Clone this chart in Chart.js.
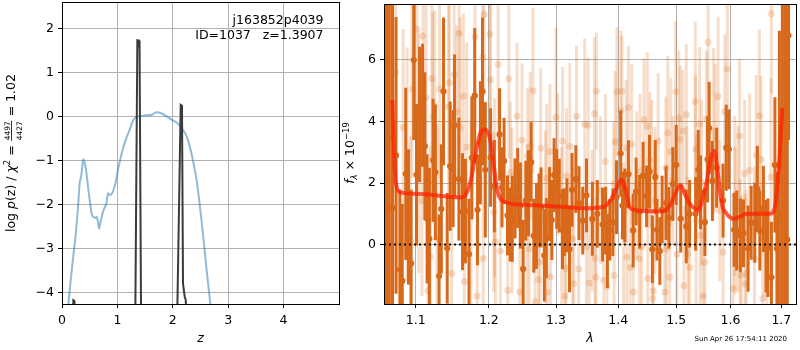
<!DOCTYPE html>
<html>
<head>
<meta charset="utf-8">
<script src="https://cdn.jsdelivr.net/npm/chart.js@4.4.0/dist/chart.umd.min.js"></script>
<style>
  html, body { margin: 0; padding: 0; background: #fff; }
  #wrap { position: relative; width: 800px; height: 350px; overflow: hidden; }
  #pz { position: absolute; left: 0; top: 0; }
  #sp { position: absolute; left: 340px; top: 0; }
</style>
</head>
<body>
<div id="wrap">
  <canvas id="pz" width="380" height="350"></canvas>
  <canvas id="sp" width="460" height="350"></canvas>
</div>
<script>
// ---- left panel: log p(z) ----
const zTicks = [0, 1, 2, 3, 4];
const lnpTicks = [-4, -3, -2, -1, 0, 1, 2];

const zBlue = [0.10,0.14,0.17,0.21,0.25,0.29,0.32,0.35,0.38,0.39,0.43,0.47,0.50,0.54,0.59,0.63,0.67,0.69,0.74,0.80,
  0.83,0.87,0.92,0.97,1.01,1.05,1.10,1.16,1.22,1.28,1.34,1.43,1.55,1.61,1.70,1.79,1.88,1.97,2.07,2.15,
  2.23,2.29,2.35,2.43,2.49,2.55,2.61,2.67,2.72];
const lnpBlue = [-4.45,-3.95,-3.57,-3.11,-2.66,-2.05,-1.51,-1.33,-0.99,-0.98,-1.18,-1.60,-1.90,-2.24,-2.31,-2.29,-2.55,-2.43,-2.17,-1.98,
  -1.75,-1.79,-1.71,-1.49,-1.22,-0.99,-0.73,-0.50,-0.31,-0.10,-0.02,0.01,0.03,0.03,0.09,0.07,0.01,-0.07,-0.14,-0.25,
  -0.40,-0.61,-0.92,-1.45,-2.05,-2.74,-3.49,-4.17,-4.8];

// null = break in the line
const zBlack = [0.195,0.205,0.225,0.235,0.8, 1.303,1.36,1.39,1.40,1.443,1.8, 2.034,2.143,2.166,2.184,2.215,2.233,2.25];
const lnpBlack = [-4.6,-4.18,-4.2,-4.6,null, -8,1.73,1.72,1.52,-8,null, -8,0.26,0.24,-3.8,-4.1,-4.17,-4.6];

// ---- right panel: spectrum ----
const lamTicks = [1.1, 1.2, 1.3, 1.4, 1.5, 1.6, 1.7];
const fluxTicks = [0, 2, 4, 6];

const lamDark = [1.0600,1.0625,1.0660,1.0700,1.0745,1.0794,1.0825,1.0870,1.0905,1.0940,
  1.0974,1.1010,1.1050,1.1090,1.1120,1.1150,1.1180,1.1230,1.1260,1.1310,
  1.1340,1.1370,1.1420,1.1460,1.1500,1.1520,1.1580,1.1630,1.1670,1.1720,
  1.1760,1.1800,1.1840,1.1880,1.1910,1.1950,1.2025,1.2080,1.2155,1.2190,
  1.2220,1.2270,1.2310,1.2340,1.2380,1.2420,1.2460,1.2500,1.2540,1.2580,
  1.2620,1.2660,1.2700,1.2740,1.2770,1.2820,1.2850,1.2900,1.2935,1.2970,
  1.3010,1.3050,1.3100,1.3130,1.3170,1.3210,1.3250,1.3310,1.3360,1.3420,
  1.3480,1.3575,1.3655,1.3740,1.3790,1.3820,1.3860,1.3910,1.3970,1.4040,
  1.4070,1.4110,1.4170,1.4250,1.4300,1.4360,1.4420,1.4480,1.4530,1.4580,
  1.4630,1.4660,1.4710,1.4750,1.4820,1.4870,1.4940,1.5000,1.5080,1.5180,
  1.5240,1.5350,1.5400,1.5440,1.5520,1.5570,1.5600,1.5660,1.5740,1.5860,
  1.5920,1.5970,1.6070,1.6120,1.6190,1.6250,1.6340,1.6400,1.6470,1.6520,
  1.6570,1.6640,1.6690,1.6730,1.6800,1.6870,1.6910,1.6960,1.7020,1.7070,
  1.7120,1.7145];
const fluxDark = [5.9,2.5,3.5,1.2,2.9,-0.81,-1.18,2.3,0.9,-0.61,
  6.0,2.27,4.23,4.53,3.2,0.84,0.19,2.74,2.35,-1.02,
  1.16,4.98,-0.12,2.55,2.47,3.88,2.13,1.07,1.09,-0.31,
  2.82,4.84,1.13,3.31,4.98,2.43,2.83,1.9,3.58,1.86,
  2.72,0.95,0.65,0.84,1.5,1.84,1.27,-0.79,1.43,1.67,
  2.68,0.29,0.61,1.11,1.21,-0.35,0.21,1.32,0.8,2.26,
  1.81,1.59,0.5,0.73,0.95,-0.15,1.78,2.13,1.35,0.78,
  1.6,0.84,1.0,0.65,0.78,-0.21,0.48,0.73,1.54,2.96,
  1.27,1.27,2.29,0.46,1.73,1.07,2.24,1.57,2.37,-0.15,
  2.2,0.48,-0.21,1.14,1.35,0.87,1.97,2.59,0.84,0.59,
  1.0,1.0,2.43,1.7,0.73,2.77,3.79,2.07,2.5,1.43,
  3.15,3.1,0.48,0.46,0.3,0.37,-0.13,0.71,0.71,1.81,
  0.46,1.16,-0.05,-0.1,-1.06,2.59,-0.13,0.95,3.0,5.62,
  0.16,6.8];
const errDark = [12,12,10,8,4.5,2.6,2.5,2.8,2.2,2.4,
  2.6,2.3,2.2,2.0,2.4,2.1,2.3,2.0,2.2,2.0,
  2.1,2.4,1.8,2.1,1.9,2.3,2.0,1.9,1.7,1.8,
  2.0,2.2,1.8,2.0,2.4,2.2,1.6,1.5,1.5,1.3,
  1.4,1.3,1.2,1.4,1.3,1.3,1.4,1.6,1.3,1.4,
  1.3,1.2,1.4,1.2,1.3,1.5,1.3,1.2,1.3,1.2,
  1.3,1.2,1.3,1.1,1.2,1.4,1.2,1.1,1.2,1.1,
  1.2,1.2,1.1,1.2,1.1,1.2,1.0,1.1,1.2,1.4,
  1.1,1.2,1.1,1.2,1.1,1.2,1.1,1.0,1.2,1.1,
  1.2,1.0,1.1,1.1,1.2,1.0,1.2,1.3,1.1,1.2,
  1.1,1.2,1.3,1.2,1.1,1.4,1.5,1.3,1.3,1.2,
  1.4,1.3,1.2,1.3,1.2,1.1,1.4,1.2,1.3,1.4,
  1.3,1.4,1.5,1.6,1.8,2.2,2.5,6,6,8,
  10,3.4];

const lamLight = [1.0739,1.0836,1.0887,1.0931,1.0952,1.1017,1.1039,1.1082,1.1095,1.1135,
  1.1161,1.1193,1.1214,1.1225,1.1250,1.1281,1.1317,1.1438,1.1450,1.1482,
  1.1515,1.1550,1.1583,1.1597,1.1642,1.1655,1.1688,1.1749,1.1804,1.1836,
  1.1911,1.1920,1.1935,
  1.2016,1.2024,1.2072,1.2080,1.2095,1.2134,1.2167,1.2274,1.2289,1.2312,
  1.2337,1.2410,1.2450,1.2484,1.2558,1.2567,1.2592,1.2606,1.2647,1.2680,
  1.2731,1.2755,1.2765,1.2837,1.2856,1.2865,1.2906,1.2915,1.2999,1.3025,
  1.3087,1.3102,1.3138,1.3153,1.3164,1.3215,1.3258,1.3278,1.3320,1.3357,
  1.3452,1.3479,1.3506,1.3522,
  1.3571,1.3609,1.3620,1.3630,1.3640,1.3705,1.3759,1.3786,1.3813,1.3921,
  1.3930,1.3949,1.3977,1.4043,1.4060,1.4087,1.4132,1.4142,1.4170,1.4198,
  1.4226,1.4253,1.4310,1.4354,1.4366,1.4395,1.4435,1.4491,1.4500,1.4536,
  1.4566,1.4582,1.4595,1.4624,1.4681,1.4797,1.4815,1.4825,1.4849,1.4885,
  1.4902,1.4942,1.4990,1.5012,1.5048,1.5072,1.5119,1.5137,1.5180,1.5190,
  1.5209,1.5239,
  1.5343,1.5350,1.5360,1.5423,1.5435,1.5458,1.5489,1.5520,1.5549,1.5580,
  1.5682,1.5711,1.5767,1.5798,1.5860,1.5892,1.5941,1.6049,1.6081,1.6090,
  1.6144,1.6176,1.6185,1.6207,1.6272,1.6280,1.6303,1.6368,1.6465,1.6497,
  1.6562,1.6594,1.6627,1.6706,1.6791,1.6799];
const fluxLight = [5.59,3.81,2.61,0.12,5.06,7.0,2.98,1.43,6.78,4.78,
  -1.5,-0.4,5.4,4.16,4.51,0.19,5.06,4.48,5.26,-0.94,
  5.53,4.32,6.87,3.79,4.82,-1.2,3.17,1.0,6.75,-1.67,
  6.1,-0.45,7.48,
  6.84,5.36,1.05,1.86,0.09,5.85,-0.21,-1.48,5.39,2.34,
  1.11,4.17,-1.54,3.39,0.46,2.88,-0.14,3.2,5.0,-1.85,
  -1.14,-0.57,3.13,0.9,2.16,-1.56,3.02,-1.05,4.14,2.61,
  0.57,3.37,-1.67,-0.77,2.23,3.2,0.19,-1.27,4.17,-0.79,
  3.9,-0.08,3.88,-1.25,
  0.78,4.25,-0.44,-1.06,4.99,1.77,-1.16,2.7,-1.37,1.98,
  -1.0,3.34,4.97,4.35,4.99,0.27,3.15,-0.4,4.46,-0.74,
  3.26,-1.54,1.93,-0.46,2.4,-0.08,4.06,3.85,-1.1,2.75,
  2.4,-1.75,-1.5,1.43,3.37,-1.54,2.51,-0.14,3.63,-1.06,
  3.02,2.08,4.97,-0.31,4.11,3.42,3.69,-1.34,4.22,1.66,
  -0.3,-0.74,
  4.65,3.1,0.78,3.92,0.3,2.02,-1.67,-0.57,4.09,6.58,
  3.68,3.47,4.81,1.11,-0.25,4.33,5.71,-1.43,1.59,0.78,
  1.16,3.53,-0.67,-1.0,2.31,-1.27,-0.94,2.42,-0.46,2.91,
  4.19,2.77,-1.75,-1.6,2.2,7.5];
const errLight = [3.6,3.2,3.8,3.4,2.9,3.3,3.9,3.1,2.8,3.5,
  3.0,3.6,2.7,3.4,3.1,3.7,2.9,3.3,2.6,3.5,
  3.2,2.8,3.0,3.6,2.7,3.3,3.4,3.0,2.9,3.2,
  2.8,3.5,2.6,
  2.7,3.0,2.6,2.9,2.4,2.8,2.5,3.1,2.6,2.3,
  2.7,2.4,2.9,2.5,2.8,2.2,2.6,2.4,2.7,3.0,
  2.5,2.3,2.6,2.8,2.4,2.7,2.2,2.5,2.9,2.3,
  2.6,2.4,2.8,2.5,2.2,2.7,2.4,2.6,2.3,2.5,
  2.8,2.4,2.2,2.6,
  2.3,2.5,2.2,2.6,1.9,2.4,2.7,2.2,2.5,2.0,
  2.4,2.3,2.1,2.6,1.8,2.4,2.2,2.5,2.0,2.3,
  2.6,2.2,2.4,2.1,2.5,2.3,2.0,2.4,2.6,2.2,
  2.3,2.5,2.1,2.4,2.2,2.6,2.3,2.0,2.5,2.2,
  2.4,2.1,2.3,2.5,2.2,2.4,2.0,2.6,2.3,2.2,
  2.5,2.4,
  2.6,2.4,2.8,2.5,2.3,2.7,2.6,2.4,2.2,2.5,
  2.7,2.4,2.6,2.3,2.8,2.5,2.2,2.9,2.6,2.4,
  2.7,2.5,2.8,2.6,2.4,2.9,2.7,2.5,3.0,2.6,
  2.8,2.7,3.1,3.0,3.2,2.6];

const lamModel = [1.0696,1.0739,1.0803,1.1017,1.1461,1.1597,1.1666,1.1743,1.1804,1.1874,
  1.1949,1.1977,1.2024,1.2072,1.2120,1.2191,1.2458,1.2960,1.3480,1.3759,
  1.3868,1.3978,1.4049,1.4116,1.4200,1.4369,1.4770,1.4887,1.4993,1.5077,
  1.5153,1.5243,1.5334,1.5406,1.5467,1.5558,1.5632,1.5695,1.5756,1.5837,
  1.5930,1.6057,1.6185,1.6312,1.6769,1.6868,1.6934,1.7021];
const fluxModel = [4.7,2.07,1.70,1.65,1.55,1.53,1.60,2.07,2.82,3.58,
  3.74,3.68,3.36,2.52,1.77,1.43,1.30,1.25,1.18,1.23,
  1.43,1.86,2.11,1.82,1.19,1.10,1.08,1.27,1.70,1.94,
  1.66,1.33,1.17,1.11,1.43,2.07,2.82,3.04,2.39,1.32,
  1.0,0.84,0.91,1.0,1.0,1.21,2.18,4.44];

const lamRange = [1.0592, 1.7299];

Chart.defaults.font.family = "'DejaVu Sans', sans-serif";
Chart.defaults.font.size = 12.5;
Chart.defaults.color = '#000';

const FONT = "'DejaVu Sans', sans-serif";
const DARK = '#d9691a';
const LIGHT = 'rgba(217,107,20,0.22)';

function fixedTicks(values, min, max) {
  return scale => {
    scale.ticks = values.map(v => ({ value: v }));
    scale.min = min;
    scale.max = max;
  };
}

function minusFmt(v) {
  return v < 0 ? '\u2212' + Math.abs(v) : String(v);
}

function pairs(xs, ys) {
  return xs.map((x, i) => ({ x: x, y: ys[i] }));
}

// each error bar is two points followed by a gap
function barPoints(lam, flux, err) {
  const pts = [];
  lam.forEach((l, i) => {
    pts.push({ x: l, y: flux[i] - err[i] }, { x: l, y: flux[i] + err[i] }, { x: l, y: null });
  });
  return pts;
}

// black box around the plot area
const frame = {
  id: 'frame',
  afterDraw(chart) {
    const { ctx, chartArea: a } = chart;
    ctx.save();
    ctx.strokeStyle = '#000';
    ctx.lineWidth = 1;
    const l = Math.round(a.left) + 0.5, t = Math.round(a.top) + 0.5;
    ctx.strokeRect(l, t, Math.round(a.right) - Math.round(a.left), Math.round(a.bottom) - Math.round(a.top));
    ctx.restore();
  }
};

// rotated label made of pieces (italic, sub/superscript, fraction)
function drawRotated(ctx, x, y, parts) {
  ctx.save();
  ctx.translate(x, y);
  ctx.rotate(-Math.PI / 2);
  ctx.textBaseline = 'alphabetic';
  ctx.fillStyle = '#000';
  let total = 0;
  parts.forEach(p => {
    ctx.font = p.f;
    if (p.num) {
      p.w = Math.max(ctx.measureText(p.num).width, ctx.measureText(p.den).width) + 2;
    } else {
      p.w = ctx.measureText(p.t).width;
    }
    total += p.w;
  });
  let cx = -total / 2;
  parts.forEach(p => {
    ctx.font = p.f;
    if (p.num) {
      ctx.textAlign = 'center';
      ctx.fillText(p.num, cx + p.w / 2, -5.5);
      ctx.fillText(p.den, cx + p.w / 2, 6.5);
      ctx.fillRect(cx + 0.5, -4, p.w - 1, 0.8);
    } else {
      ctx.textAlign = 'left';
      ctx.fillText(p.t, cx, p.dy || 0);
    }
    cx += p.w;
  });
  ctx.restore();
}

const pzText = {
  id: 'pzText',
  afterDraw(chart) {
    const ctx = chart.ctx;
    ctx.save();
    ctx.font = '12.5px ' + FONT;
    ctx.fillStyle = '#000';
    ctx.textAlign = 'right';
    ctx.textBaseline = 'alphabetic';
    ctx.fillText('j163852p4039', 323.5, 24);
    ctx.fillText('ID=1037   z=1.3907', 323.5, 38.5);
    ctx.restore();
    drawRotated(ctx, 15, 153, [
      { t: 'log ', f: '12.5px ' + FONT },
      { t: 'p', f: 'italic 12.5px ' + FONT },
      { t: '(z) / ', f: '12.5px ' + FONT },
      { t: '\u03c7', f: 'italic 12.5px ' + FONT },
      { t: '2', f: '8.5px ' + FONT, dy: -5 },
      { t: ' = ', f: '12.5px ' + FONT },
      { num: '4497', den: '4427', f: '7.5px ' + FONT },
      { t: ' = 1.02', f: '12.5px ' + FONT }
    ]);
  }
};

const spText = {
  id: 'spText',
  afterDraw(chart) {
    const ctx = chart.ctx;
    drawRotated(ctx, 14, 153, [
      { t: 'f', f: 'italic 12.5px ' + FONT },
      { t: '\u03bb', f: 'italic 8.5px ' + FONT, dy: 3 },
      { t: ' \u00d7 10', f: '12.5px ' + FONT },
      { t: '\u221219', f: '8.5px ' + FONT, dy: -5 }
    ]);
    ctx.save();
    ctx.font = '7px ' + FONT;
    ctx.fillStyle = '#000';
    ctx.textAlign = 'right';
    ctx.fillText('Sun Apr 26 17:54:11 2020', 447, 341);
    ctx.restore();
  }
};

function axisBase(size, horizontal) {
  return {
    afterFit: s => {
      if (horizontal) { s.height = size; s.paddingLeft = 0; s.paddingRight = 0; }
      else { s.width = size; s.paddingTop = 0; s.paddingBottom = 0; }
    },
    grid: { color: '#b0b0b0', lineWidth: 1, tickColor: '#000', tickLength: 4, drawTicks: true },
    border: { display: false },
    ticks: { padding: horizontal ? 5 : 4, maxRotation: 0, autoSkip: false, color: '#000', font: { size: 12.5 } }
  };
}

const common = {
  responsive: false,
  animation: false,
  events: [],
  plugins: { legend: { display: false }, tooltip: { enabled: false } }
};

// left chart
const pzX = axisBase(46, true);
pzX.type = 'linear';
pzX.min = 0; pzX.max = 5;
pzX.afterBuildTicks = fixedTicks(zTicks, 0, 5);
pzX.ticks.callback = v => minusFmt(v);
pzX.title = { display: true, text: 'z', font: { size: 12.5, style: 'italic' }, padding: { top: 0, bottom: 4 }, color: '#000' };

const pzY = axisBase(62, false);
pzY.type = 'linear';
pzY.min = -4.266; pzY.max = 2.598;
pzY.afterBuildTicks = fixedTicks(lnpTicks, -4.266, 2.598);
pzY.ticks.callback = v => minusFmt(v);

new Chart(document.getElementById('pz'), {
  type: 'line',
  data: {
    datasets: [
      { data: pairs(zBlack, lnpBlack), borderColor: '#3b3b3b', borderWidth: 2, pointRadius: 0, order: 1 },
      { data: pairs(zBlue, lnpBlue), borderColor: 'rgba(31,119,180,0.5)', borderWidth: 2, pointRadius: 0, tension: 0.2, order: 2 }
    ]
  },
  options: Object.assign({}, common, {
    layout: { padding: { left: 0, right: 41, top: 2, bottom: 0 } },
    scales: { x: pzX, y: pzY }
  }),
  plugins: [frame, pzText]
});

// right chart
const spX = axisBase(46, true);
spX.type = 'logarithmic';
spX.min = lamRange[0]; spX.max = lamRange[1];
spX.afterBuildTicks = fixedTicks(lamTicks, lamRange[0], lamRange[1]);
spX.ticks.callback = v => Number(v).toFixed(1);
spX.title = { display: true, text: '\u03bb', font: { size: 12.5, style: 'italic' }, padding: { top: 0, bottom: 4 }, color: '#000' };

const spY = axisBase(44, false);
spY.type = 'linear';
spY.min = -1.93; spY.max = 7.82;
spY.afterBuildTicks = fixedTicks(fluxTicks, -1.93, 7.82);
spY.ticks.callback = v => minusFmt(v);

new Chart(document.getElementById('sp'), {
  type: 'line',
  data: {
    datasets: [
      { data: pairs(lamModel, fluxModel), borderColor: 'rgba(255,30,0,0.72)', borderWidth: 4, pointRadius: 0,
        cubicInterpolationMode: 'monotone', order: 0 },
      { data: pairs(lamRange, [0, 0]), borderColor: '#111', borderWidth: 2, borderDash: [2, 3], pointRadius: 0, order: 1 },
      { data: pairs(lamDark, fluxDark), showLine: false, pointRadius: 3.1, pointBorderWidth: 0,
        pointBackgroundColor: DARK, order: 2 },
      { data: barPoints(lamDark, fluxDark, errDark), borderColor: DARK, borderWidth: 3, pointRadius: 0,
        segment: {}, order: 3 },
      { data: pairs(lamLight, fluxLight), showLine: false, pointRadius: 3.5, pointBorderWidth: 0,
        pointBackgroundColor: LIGHT, order: 4 },
      { data: barPoints(lamLight, fluxLight, errLight), borderColor: LIGHT, borderWidth: 3, pointRadius: 0,
        segment: {}, order: 5 }
    ]
  },
  options: Object.assign({}, common, {
    layout: { padding: { left: 0, right: 1, top: 2, bottom: 0 } },
    scales: { x: spX, y: spY }
  }),
  plugins: [frame, spText]
});
</script>
</body>
</html>
